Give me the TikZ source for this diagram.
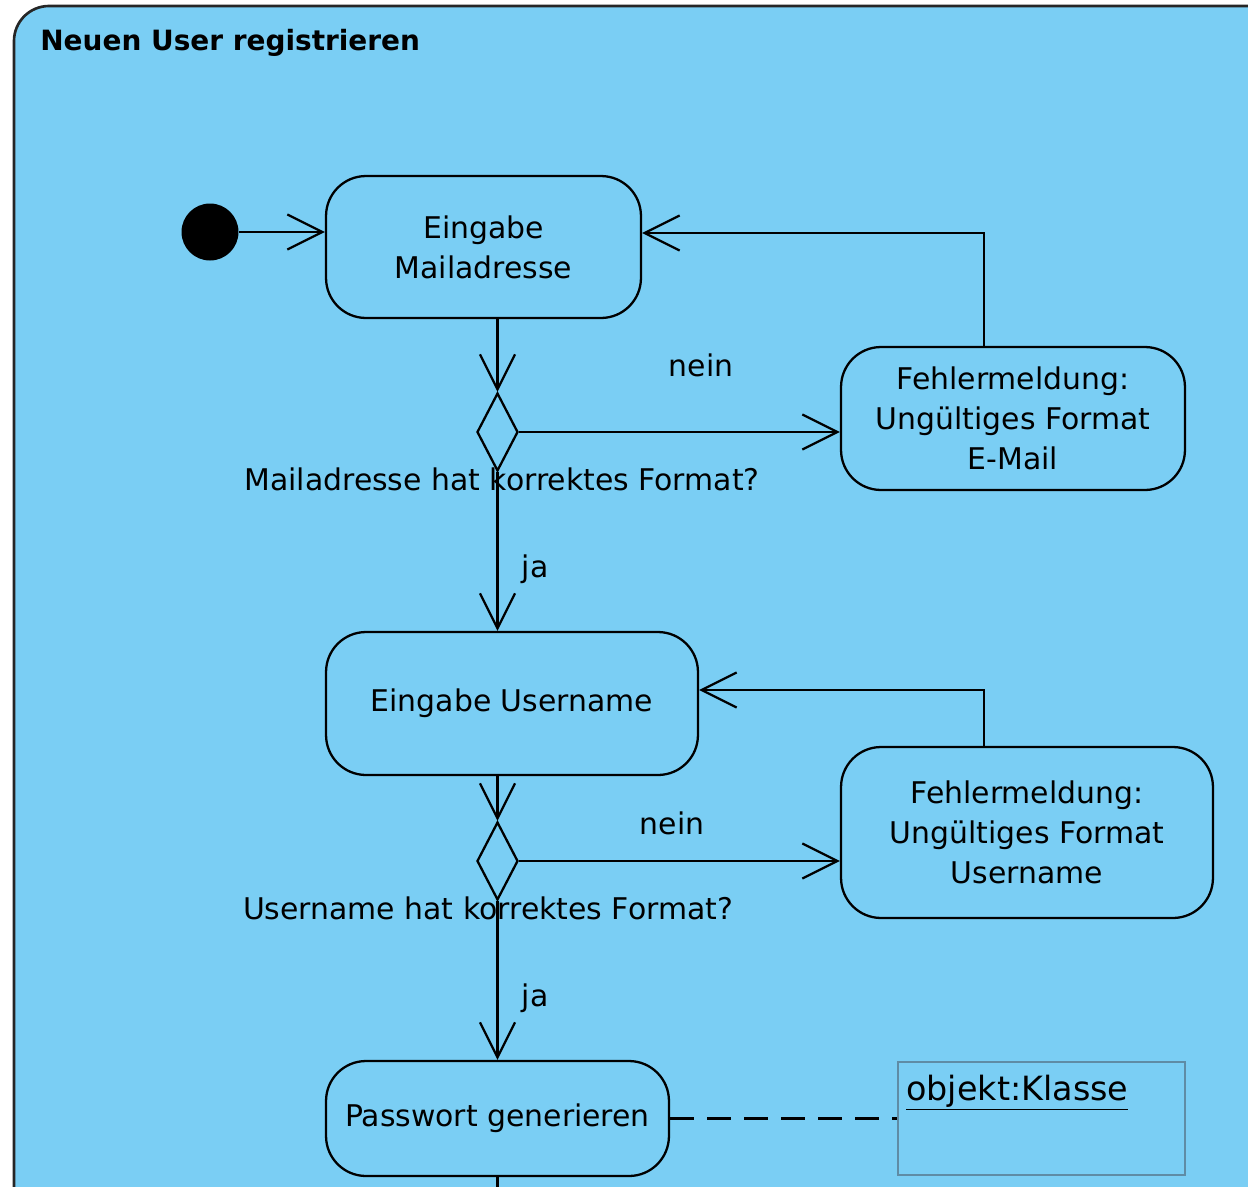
\documentclass[tikz,border=0pt]{standalone}
\usepackage{fontspec}
\setmainfont{DejaVu Sans}
\usetikzlibrary{arrows.meta,shapes.geometric}
\definecolor{actblue}{RGB}{122,206,244}
\definecolor{objline}{RGB}{95,140,165}
\newcommand{\dgfont}{\fontsize{17pt}{22.7pt}\selectfont}
\newcommand{\dgtitle}{\fontsize{15.9pt}{20pt}\selectfont\bfseries}
\newcommand{\dgobj}{\fontsize{19pt}{22pt}\selectfont}
\begin{document}
\begin{tikzpicture}[x=0.02cm,y=-0.02cm,
  frame/.style={draw=black!85, line width=1.5pt, fill=actblue, rounded corners=0.7cm},
  act/.style={draw=black, line width=1.3pt, rounded corners=0.8cm, fill=actblue,
    align=center, inner sep=0pt, font=\dgfont},
  dec/.style={draw=black, line width=1.3pt, shape=diamond, fill=actblue, inner sep=0pt,
    minimum width=0.82cm, minimum height=1.56cm},
  flow/.style={draw=black, line width=1.3pt,
    -{Straight Barb[length=0.7cm,width=0.7cm]}},
  plain/.style={draw=black, line width=1.3pt},
  lbl/.style={font=\dgfont, inner sep=0pt, anchor=base},
  objbox/.style={draw=objline, line width=0.9pt, minimum width=5.74cm, minimum height=2.26cm, inner sep=0pt},
  startdot/.style={circle, fill=black, inner sep=0pt, minimum size=1.14cm}
]
\useasboundingbox (0,0) rectangle (1248,1187);
\fill[white] (0,0) rectangle (1248,1187);
\begin{scope}
\clip (0,0) rectangle (1248,1187);
\path[frame] (14,6) rectangle (1320,1260);
\end{scope}
\node[font=\dgtitle, inner sep=0pt, anchor=base west] (title) at (40,50) {Neuen User registrieren};

\node[startdot] (start) at (210,232) {};
\node[act, minimum width=6.3cm, minimum height=2.84cm] (mail) at (483.5,247) {Eingabe\\Mailadresse};
\node[dec] (d1) at (497.5,432) {};
\node[act, minimum width=6.88cm, minimum height=2.86cm] (err1) at (1013,418.5) {Fehlermeldung:\\Ungültiges Format\\E-Mail};
\node[act, minimum width=7.44cm, minimum height=2.86cm] (user) at (512,703.5) {Eingabe Username};
\node[dec] (d2) at (497.5,861) {};
\node[act, minimum width=7.44cm, minimum height=3.42cm] (err2) at (1027,832.5) {Fehlermeldung:\\Ungültiges Format\\Username};
\node[act, minimum width=6.86cm, minimum height=2.3cm] (pass) at (497.5,1118.5) {Passwort generieren};
\node[objbox] (obj) at (1041.5,1118.5) {};
\node[font=\dgobj, inner sep=0pt, anchor=base west] (objtxt) at (906,1100) {\underline{objekt:Klasse}};

\coordinate (r1) at (984,233);
\coordinate (r2) at (984,690);
\coordinate (bottom) at (497.5,1187);

\node[lbl] (nein1) at (701,376) {nein};
\node[lbl] (q1) at (502,490) {Mailadresse hat korrektes Format?};
\node[lbl] (ja1) at (535,577) {ja};
\node[lbl] (nein2) at (672,834) {nein};
\node[lbl] (q2) at (488,919) {Username hat korrektes Format?};
\node[lbl] (ja2) at (535,1006) {ja};

\draw[flow] (start) -- (start -| mail.west);
\draw[flow] (mail.south -| d1.north) -- (d1.north);
\draw[flow] (d1.east) -- (d1.east -| err1.west);
\draw[flow] (d1.south) -- (d1.south |- user.north);
\draw[flow] (err1.north -| r1) -- (r1) -- (r1 -| mail.east);
\draw[flow] (user.south -| d2.north) -- (d2.north);
\draw[flow] (d2.east) -- (d2.east -| err2.west);
\draw[flow] (d2.south) -- (d2.south |- pass.north);
\draw[flow] (err2.north -| r2) -- (r2) -- (r2 -| user.east);
\draw[plain] (pass.south) -- (bottom);
\draw[plain, dash pattern=on 0.48cm off 0.26cm] (pass.east) -- (obj.west);
\end{tikzpicture}
\end{document}
